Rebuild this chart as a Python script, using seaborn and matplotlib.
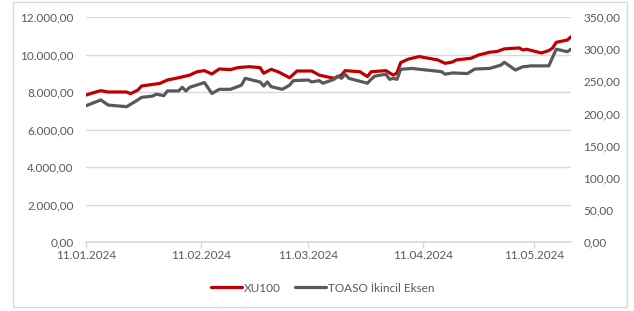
import matplotlib
matplotlib.use("Agg")
import matplotlib.pyplot as plt
import matplotlib.dates as mdates
from matplotlib.ticker import FuncFormatter, MultipleLocator
from matplotlib.patches import Rectangle
import seaborn as sns
import pandas as pd

# XU100 (left axis)
xu_dates = ["2024-01-11", "2024-01-14", "2024-01-15", "2024-01-17", "2024-01-22", "2024-01-23",
            "2024-01-25", "2024-01-26", "2024-01-31", "2024-02-02", "2024-02-05", "2024-02-08",
            "2024-02-10", "2024-02-12", "2024-02-14", "2024-02-16", "2024-02-19", "2024-02-21",
            "2024-02-24", "2024-02-27", "2024-02-28", "2024-03-01", "2024-03-03", "2024-03-06",
            "2024-03-08", "2024-03-12", "2024-03-14", "2024-03-18", "2024-03-20", "2024-03-21",
            "2024-03-25", "2024-03-27", "2024-03-28", "2024-04-01", "2024-04-03", "2024-04-04",
            "2024-04-05", "2024-04-07", "2024-04-10", "2024-04-15", "2024-04-17", "2024-04-19",
            "2024-04-20", "2024-04-24", "2024-04-26", "2024-04-29", "2024-05-01", "2024-05-03",
            "2024-05-07", "2024-05-08", "2024-05-09", "2024-05-13", "2024-05-15", "2024-05-16",
            "2024-05-17", "2024-05-20", "2024-05-21"]
xu_values = [7840, 8020, 8070, 8000, 8000, 7910,
             8100, 8320, 8460, 8640, 8760, 8900,
             9080, 9140, 8960, 9230, 9190, 9300,
             9350, 9300, 9000, 9210, 9070, 8760,
             9120, 9120, 8900, 8730, 8900, 9140,
             9080, 8820, 9080, 9140, 8900, 9020,
             9570, 9750, 9890, 9710, 9530, 9600,
             9710, 9800, 9970, 10120, 10160, 10300,
             10350, 10240, 10280, 10080, 10210, 10340,
             10650, 10770, 10950]

# TOASO (right axis)
to_dates = ["2024-01-11", "2024-01-15", "2024-01-17", "2024-01-22", "2024-01-23", "2024-01-25",
            "2024-01-26", "2024-01-29", "2024-01-30", "2024-02-01", "2024-02-02", "2024-02-05",
            "2024-02-06", "2024-02-07", "2024-02-08", "2024-02-12", "2024-02-14", "2024-02-16",
            "2024-02-19", "2024-02-22", "2024-02-23", "2024-02-27", "2024-02-28", "2024-02-29",
            "2024-03-01", "2024-03-04", "2024-03-06", "2024-03-07", "2024-03-11", "2024-03-12",
            "2024-03-14", "2024-03-15", "2024-03-18", "2024-03-19", "2024-03-20", "2024-03-21",
            "2024-03-22", "2024-03-27", "2024-03-28", "2024-03-29", "2024-04-01", "2024-04-02",
            "2024-04-03", "2024-04-04", "2024-04-05", "2024-04-08", "2024-04-16", "2024-04-17",
            "2024-04-19", "2024-04-23", "2024-04-25", "2024-04-29", "2024-05-02", "2024-05-03",
            "2024-05-06", "2024-05-08", "2024-05-09", "2024-05-10", "2024-05-15", "2024-05-17",
            "2024-05-20", "2024-05-21"]
to_values = [212, 221, 213, 210.5, 214, 221,
             225, 227, 230, 227.6, 235, 235,
             240.6, 235, 240.6, 248, 231, 237.5,
             237.5, 244, 254.6, 249, 242.6, 249,
             241.6, 237.5, 244, 251, 252, 249,
             251, 247, 253, 258, 254.6, 261,
             254.6, 247, 253, 258, 261, 253,
             254.6, 253, 268.6, 270, 265, 261,
             263, 262, 269, 270, 275, 279.5,
             267.5, 272.7, 273, 274, 274, 300,
             296, 300]

dfXu = pd.DataFrame({"date": pd.to_datetime(xu_dates), "value": xu_values})
dfTo = pd.DataFrame({"date": pd.to_datetime(to_dates), "value": to_values})

sns.set_theme(style="white")
plt.rcParams["font.family"] = ["Lato", "DejaVu Sans"]

RED = "#C00000"
GRAY = "#595959"
GRID = "#D9D9D9"
TXT = "#595959"

W, H = 634, 311
fig = plt.figure(figsize=(W / 100, H / 100), dpi=100)
fig.patch.set_facecolor("white")
fig.patches.append(Rectangle((13 / W, 1 - 307 / H), 614 / W, 305 / H, transform=fig.transFigure,
                             fill=False, edgecolor="#D9D9D9", linewidth=1))

ax = fig.add_axes([86 / W, 1 - 242 / H, (571 - 86) / W, (242 - 17) / H])
ax2 = ax.twinx()

sns.lineplot(data=dfXu, x="date", y="value", ax=ax, color=RED, linewidth=2.3, label="XU100", legend=False)
sns.lineplot(data=dfTo, x="date", y="value", ax=ax2, color=GRAY, linewidth=2.3,
             label="TOASO İkincil Eksen", legend=False)

def tr_fmt(v, pos):
    s = "{:,.2f}".format(v)
    return s.replace(",", "X").replace(".", ",").replace("X", ".")

ax.set_ylim(0, 12000)
ax.yaxis.set_major_locator(MultipleLocator(2000))
ax.yaxis.set_major_formatter(FuncFormatter(tr_fmt))
ax2.set_ylim(0, 350)
ax2.yaxis.set_major_locator(MultipleLocator(50))
ax2.yaxis.set_major_formatter(FuncFormatter(tr_fmt))

ax.set_xlim(pd.Timestamp("2024-01-11"), pd.Timestamp("2024-05-21"))
ax.xaxis.set_major_locator(mdates.MonthLocator(bymonthday=11))
ax.xaxis.set_major_formatter(mdates.DateFormatter("%d.%m.%Y"))

ax.grid(axis="y", color=GRID, linewidth=1)
ax.set_axisbelow(True)
for a in (ax, ax2):
    for sp in a.spines.values():
        sp.set_visible(False)
    a.set_xlabel("")
    a.set_ylabel("")
ax.spines["bottom"].set_visible(True)
ax.spines["bottom"].set_color(GRID)

ax.tick_params(axis="y", length=0, pad=9, labelsize=8.5, labelcolor=TXT)
ax2.tick_params(axis="y", length=0, pad=9, labelsize=8.5, labelcolor=TXT)
ax.tick_params(axis="x", length=4, color=GRID, width=1, pad=2, labelsize=8.5, labelcolor=TXT, bottom=True)

h1, l1 = ax.get_legend_handles_labels()
h2, l2 = ax2.get_legend_handles_labels()
fig.legend(h1 + h2, l1 + l2, loc="center", bbox_to_anchor=(323 / W, 1 - 288 / H), ncol=2, frameon=False,
           fontsize=8.5, labelcolor=TXT, handlelength=2.6, handletextpad=0.2, columnspacing=1.2)

fig.savefig("out.png", dpi=100)
